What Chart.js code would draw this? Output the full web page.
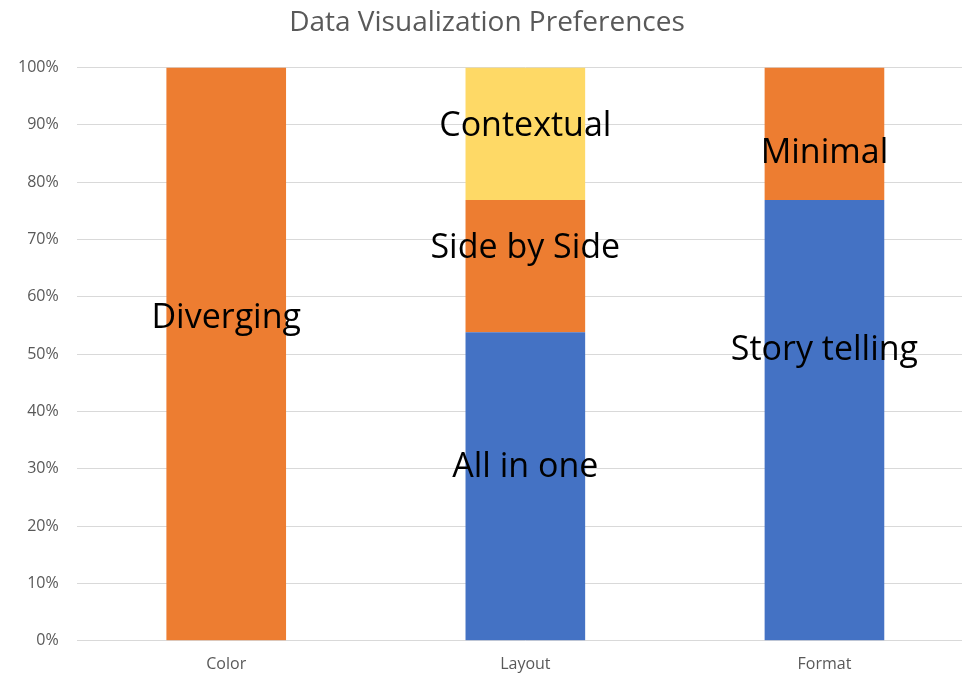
<!DOCTYPE html>
<html>
<head>
<meta charset="utf-8">
<script src="https://cdn.jsdelivr.net/npm/chart.js@4/dist/chart.umd.min.js"></script>
<style>
html,body{margin:0;padding:0;background:#fff;overflow:hidden;}
#wrap{width:974px;height:692px;}
</style>
</head>
<body>
<div id="wrap"><canvas id="c" width="974" height="692"></canvas></div>
<script>
const categories = ["Color", "Layout", "Format"];
const totals = [13, 13, 13];
const seriesBlue = [0, 7, 10];
const seriesOrange = [13, 3, 3];
const seriesYellow = [0, 3, 0];
const yTicks = [0,10,20,30,40,50,60,70,80,90,100];
// In-bar label texts and the percentage level of each text baseline
const barLabels = [
  {cat: 0, text: "Diverging", at: 54.5},
  {cat: 1, text: "All in one", at: 28.6},
  {cat: 1, text: "Side by Side", at: 66.7},
  {cat: 1, text: "Contextual", at: 88.0},
  {cat: 2, text: "Minimal", at: 83.3},
  {cat: 2, text: "Story telling", at: 49.0}
];

const pct = (arr) => arr.map((v, i) => v / totals[i] * 100);

const labelPlugin = {
  id: 'barLabels',
  afterDatasetsDraw(chart) {
    const ctx = chart.ctx;
    const xs = chart.scales.x, ys = chart.scales.y;
    ctx.save();
    ctx.fillStyle = '#000';
    ctx.font = '34px "Open Sans", sans-serif';
    ctx.textAlign = 'center';
    ctx.textBaseline = 'alphabetic';
    barLabels.forEach(l => {
      ctx.fillText(l.text, xs.getPixelForValue(l.cat), ys.getPixelForValue(l.at));
    });
    ctx.restore();
  }
};

new Chart(document.getElementById('c'), {
  type: 'bar',
  data: {
    labels: categories,
    datasets: [
      {label: 'Series 1', data: pct(seriesBlue), backgroundColor: '#4472C4'},
      {label: 'Series 2', data: pct(seriesOrange), backgroundColor: '#ED7D31'},
      {label: 'Series 3', data: pct(seriesYellow), backgroundColor: '#FED966'}
    ]
  },
  options: {
    responsive: false,
    animation: false,
    devicePixelRatio: 1,
    layout: {padding: {left: 0, right: 0, top: 6, bottom: 4}},
    datasets: {bar: {categoryPercentage: 1.0, barPercentage: 0.4}},
    plugins: {
      legend: {display: false},
      tooltip: {enabled: false},
      title: {
        display: true,
        text: 'Data Visualization Preferences',
        color: '#595959',
        font: {family: '"Open Sans", sans-serif', size: 28, weight: 'normal'},
        padding: {top: 0, bottom: 28}
      }
    },
    scales: {
      x: {
        stacked: true,
        grid: {display: false, drawTicks: false},
        border: {display: false},
        ticks: {color: '#595959', font: {family: '"Open Sans", sans-serif', size: 16}, padding: 14}
      },
      y: {
        stacked: true,
        min: 0, max: 100,
        afterBuildTicks(axis) { axis.ticks = yTicks.map(v => ({value: v})); },
        grid: {color: '#D9D9D9', lineWidth: 1, drawTicks: false},
        border: {display: false},
        ticks: {
          color: '#595959',
          font: {family: '"Open Sans", sans-serif', size: 16},
          padding: 18,
          callback: v => v + '%'
        }
      }
    }
  },
  plugins: [labelPlugin]
});
</script>
</body>
</html>
